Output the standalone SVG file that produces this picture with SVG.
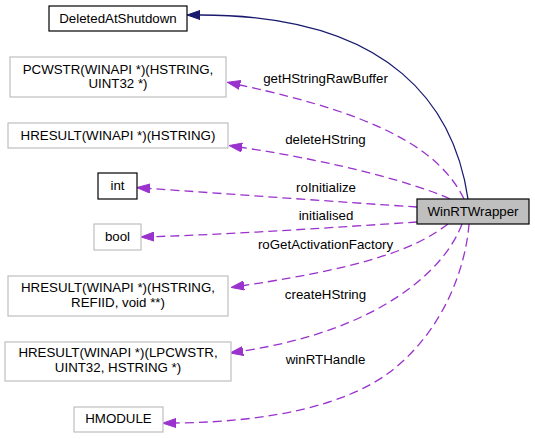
<svg xmlns="http://www.w3.org/2000/svg" width="535" height="439" viewBox="0 0 535 439">
<style>
  text { font-family: "Liberation Sans", Arial, Helvetica, sans-serif; font-size: 13.3px; fill: #000; text-anchor: middle; }
  .box { fill: #fff; stroke: #000; stroke-width: 1.2; }
  .gbox { fill: #fff; stroke: #bfbfbf; stroke-width: 1.2; }
  .main { fill: #bfbfbf; stroke: #000; stroke-width: 1.2; }
  .dep { fill: none; stroke: #9a32cd; stroke-width: 1.3; stroke-dasharray: 9,5; }
  .inh { fill: none; stroke: #191970; stroke-width: 1.3; }
</style>
<defs>
  <marker id="ap" viewBox="0 0 13 10" markerWidth="13" markerHeight="10" refX="0" refY="5" orient="auto" markerUnits="userSpaceOnUse">
    <path d="M0,0.5 L13,5 L0,9.5 z" fill="#9a32cd" stroke="#9a32cd" stroke-width="1"/>
  </marker>
  <marker id="an" viewBox="0 0 13 10" markerWidth="13" markerHeight="10" refX="0" refY="5" orient="auto" markerUnits="userSpaceOnUse">
    <path d="M0,0.5 L13,5 L0,9.5 z" fill="#191970" stroke="#191970" stroke-width="1"/>
  </marker>
</defs>
<rect width="535" height="439" fill="#fff"/>
<g id="edges">
  <path class="inh" d="M468,199 C455,110 395,15 200,15" marker-end="url(#an)"/>
  <path class="dep" d="M464,199 C440,150 380,115 240,85" marker-end="url(#ap)"/>
  <text x="325.5" y="82.5">getHStringRawBuffer</text>
  <path class="dep" d="M450,199 C420,185 340,162 242,147.5" marker-end="url(#ap)"/>
  <text x="325.5" y="144">deleteHString</text>
  <path class="dep" d="M417,207 C340,202 230,194 150,188.5" marker-end="url(#ap)"/>
  <text x="326" y="192">roInitialize</text>
  <path class="dep" d="M417,222 C340,227 240,234 154,236.6" marker-end="url(#ap)"/>
  <text x="326" y="220">initialised</text>
  <path class="dep" d="M448,224 C420,245 380,265 244,285.5" marker-end="url(#ap)"/>
  <text x="325.5" y="249">roGetActivationFactory</text>
  <path class="dep" d="M462,224 C445,270 380,330 243,351" marker-end="url(#ap)"/>
  <text x="325.5" y="299">createHString</text>
  <path class="dep" d="M469,224 C466,265 445,330 390,372 C346,405 270,422 176,423" marker-end="url(#ap)"/>
  <text x="325.5" y="364">winRTHandle</text>
</g>
<g id="node-WinRTWrapper">
  <rect class="main" x="417" y="199" width="112" height="25"/>
  <text x="473" y="215.5">WinRTWrapper</text>
</g>
<g id="node-DeletedAtShutdown">
  <rect class="box" x="49" y="6" width="138" height="25"/>
  <text x="118" y="22.5">DeletedAtShutdown</text>
</g>
<g id="node-PCWSTR">
  <rect class="gbox" x="10" y="57" width="216" height="40"/>
  <text x="118" y="74">PCWSTR(WINAPI *)(HSTRING,</text>
  <text x="118" y="88">UINT32 *)</text>
</g>
<g id="node-HRESULT-HSTRING">
  <rect class="gbox" x="8" y="123" width="220" height="25"/>
  <text x="118" y="139.5">HRESULT(WINAPI *)(HSTRING)</text>
</g>
<g id="node-int">
  <rect class="box" x="98" y="173" width="39" height="26"/>
  <text x="117.5" y="189.5">int</text>
</g>
<g id="node-bool">
  <rect class="gbox" x="94" y="224" width="47" height="26"/>
  <text x="117.5" y="240.5">bool</text>
</g>
<g id="node-HRESULT-REFIID">
  <rect class="gbox" x="8" y="276" width="220" height="40"/>
  <text x="118" y="292">HRESULT(WINAPI *)(HSTRING,</text>
  <text x="118" y="306.5">REFIID, void **)</text>
</g>
<g id="node-HRESULT-LPCWSTR">
  <rect class="gbox" x="5" y="342" width="226" height="39"/>
  <text x="118" y="357">HRESULT(WINAPI *)(LPCWSTR,</text>
  <text x="118" y="371.5">UINT32, HSTRING *)</text>
</g>
<g id="node-HMODULE">
  <rect class="gbox" x="74" y="407" width="89" height="25"/>
  <text x="118.5" y="423">HMODULE</text>
</g>
</svg>
